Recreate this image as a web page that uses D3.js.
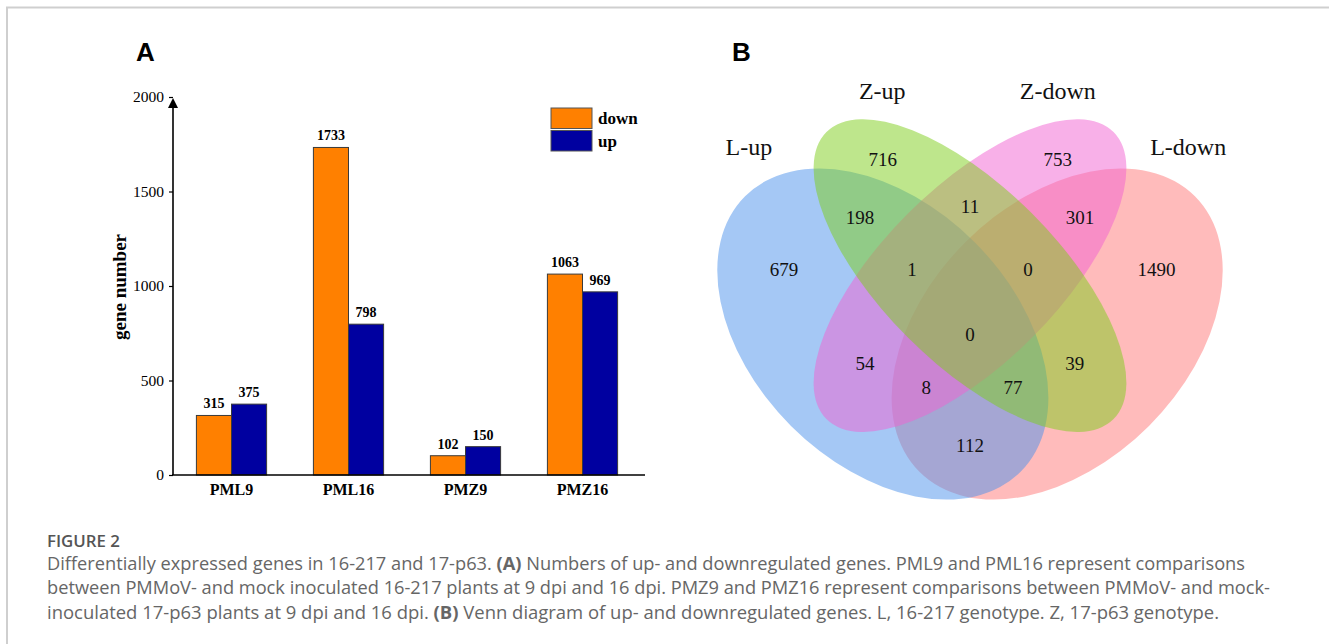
<!DOCTYPE html>
<html>
<head>
<meta charset="utf-8">
<script src="https://cdn.jsdelivr.net/npm/d3@7/dist/d3.min.js"></script>
<style>
  body { margin: 0; background: #fff; }
  svg { display: block; }
</style>
</head>
<body>
<svg width="1329" height="644"></svg>
<script>
// ---- data: panel A ----
const groups = ["PML9", "PML16", "PMZ9", "PMZ16"];
const series = ["down", "up"];
const downValues = [315, 1733, 102, 1063];
const upValues = [375, 798, 150, 969];
const yTicks = [0, 500, 1000, 1500, 2000];
const seriesColors = ["#FF8000", "#0000A0"];

// ---- data: panel B (venn) ----
const setNames = ["L-up", "Z-up", "Z-down", "L-down"];
const setColors = ["#4B91EB", "#7DCD19", "#F161D1", "#FF7777"];
const regionCounts = [716, 753, 11, 198, 301, 679, 1, 0, 1490, 0, 54, 39, 8, 77, 112];

// venn layout in unit square (like VennDiagram's quad layout)
const ellipses = [
  { cx: 0.351, cy: 0.47, a: 0.333, b: 0.222, rot: 45 },   // L-up
  { cx: 0.50, cy: 0.57, a: 0.347, b: 0.150, rot: 45 },    // Z-up
  { cx: 0.50, cy: 0.57, a: 0.347, b: 0.150, rot: -45 },   // Z-down
  { cx: 0.649, cy: 0.47, a: 0.333, b: 0.222, rot: -45 }   // L-down
];
const drawOrder = [3, 0, 2, 1];
const setLabelPos = [[0.122, 0.79], [0.35, 0.887], [0.65, 0.887], [0.873, 0.79]];
const regionPos = [
  [0.351, 0.769], [0.65, 0.769], [0.5, 0.689], [0.312, 0.67], [0.688, 0.67],
  [0.182, 0.581], [0.401, 0.581], [0.599, 0.581], [0.819, 0.581], [0.5, 0.47],
  [0.3205, 0.4205], [0.679, 0.4205], [0.425, 0.379], [0.5735, 0.379], [0.5, 0.28]
];

const captionTitle = "FIGURE 2";
const captionLines = [
  [["Differentially expressed genes in 16-217 and 17-p63. ", false], ["(A)", true], [" Numbers of up- and downregulated genes. PML9 and PML16 represent comparisons", false]],
  [["between PMMoV- and mock inoculated 16-217 plants at 9 dpi and 16 dpi. PMZ9 and PMZ16 represent comparisons between PMMoV- and mock-", false]],
  [["inoculated 17-p63 plants at 9 dpi and 16 dpi. ", false], ["(B)", true], [" Venn diagram of up- and downregulated genes. L, 16-217 genotype. Z, 17-p63 genotype.", false]]
];
const captionWidths = [1198, 1223, 1172];

const svg = d3.select("svg");
const serif = "'Liberation Serif', 'Times New Roman', serif";
const sans = "'Liberation Sans', Arial, sans-serif";

// frame
svg.append("path")
  .attr("d", "M7,644 V7.5 H1329")
  .attr("fill", "none")
  .attr("stroke", "#cfcfcf")
  .attr("stroke-width", 2);

// panel letters
svg.append("text").attr("x", 136).attr("y", 61).text("A")
  .style("font-family", sans).style("font-weight", "bold").style("font-size", "26px");
svg.append("text").attr("x", 732).attr("y", 61).text("B")
  .style("font-family", sans).style("font-weight", "bold").style("font-size", "26px");

// ---- bar chart ----
const x0 = d3.scaleBand().domain(groups).range([173, 641]).paddingInner(0.4).paddingOuter(0.2);
const x1 = d3.scaleBand().domain(series).range([0, x0.bandwidth()]);
const y = d3.scaleLinear().domain([0, 2000]).range([475, 97]);

const rows = groups.map((g, i) => ({ group: g, values: [downValues[i], upValues[i]] }));

const gBars = svg.append("g");
const grp = gBars.selectAll("g").data(rows).enter().append("g")
  .attr("transform", d => `translate(${x0(d.group)},0)`);

grp.selectAll("rect")
  .data(d => d.values.map((v, k) => ({ key: series[k], value: v, k })))
  .enter().append("rect")
  .attr("x", d => x1(d.key))
  .attr("y", d => y(d.value))
  .attr("width", x1.bandwidth())
  .attr("height", d => y(0) - y(d.value))
  .attr("fill", d => seriesColors[d.k])
  .attr("stroke", "#3a3a3a")
  .attr("stroke-width", 1);

grp.selectAll("text")
  .data(d => d.values.map((v, k) => ({ key: series[k], value: v })))
  .enter().append("text")
  .attr("x", d => x1(d.key) + x1.bandwidth() / 2)
  .attr("y", d => y(d.value) - 7)
  .attr("text-anchor", "middle")
  .text(d => d.value)
  .style("font-family", serif).style("font-weight", "bold").style("font-size", "14px");

// y axis
const yAxis = d3.axisLeft(y).tickValues(yTicks).tickFormat(d3.format("d")).tickSize(4).tickPadding(5);
const gy = svg.append("g").attr("transform", "translate(173,0)").call(yAxis);
gy.select(".domain").remove();
gy.selectAll("line").attr("stroke", "#000").attr("stroke-width", 1.2);
gy.selectAll("text").style("font-family", serif).style("font-size", "15.5px").attr("fill", "#000");
svg.append("line").attr("x1", 173).attr("x2", 173).attr("y1", y(0)).attr("y2", 104)
  .attr("stroke", "#000").attr("stroke-width", 1.6);
svg.append("path").attr("d", `M173,${y(2000) + 1} l-5,10 h10 z`).attr("fill", "#000");

// x axis
svg.append("line").attr("x1", 172).attr("x2", 645).attr("y1", y(0)).attr("y2", y(0))
  .attr("stroke", "#000").attr("stroke-width", 1.6);
svg.append("g").selectAll("text").data(groups).enter().append("text")
  .attr("x", d => x0(d) + x0.bandwidth() / 2)
  .attr("y", 495)
  .attr("text-anchor", "middle")
  .text(d => d)
  .style("font-family", serif).style("font-weight", "bold").style("font-size", "16px");

// y label
svg.append("text")
  .attr("transform", "translate(126,287) rotate(-90)")
  .attr("text-anchor", "middle")
  .text("gene number")
  .style("font-family", serif).style("font-weight", "bold").style("font-size", "19px");

// legend
const legend = svg.append("g").selectAll("g").data(series).enter().append("g")
  .attr("transform", (d, i) => `translate(551,${108 + i * 22.5})`);
legend.append("rect").attr("width", 41).attr("height", 20.5)
  .attr("fill", (d, i) => seriesColors[i]).attr("stroke", "#555").attr("stroke-width", 1);
legend.append("text").attr("x", 47).attr("y", 16).text(d => d)
  .style("font-family", serif).style("font-weight", "bold").style("font-size", "17px");

// ---- venn ----
const vx = d3.scaleLinear().domain([0, 1]).range([677.5, 1262.5]);
const vy = d3.scaleLinear().domain([0, 1]).range([609, 24]);
const unit = vx(1) - vx(0);

const gVenn = svg.append("g");
gVenn.selectAll("ellipse").data(drawOrder).enter().append("ellipse")
  .attr("cx", 0).attr("cy", 0)
  .attr("rx", i => ellipses[i].a * unit)
  .attr("ry", i => ellipses[i].b * unit)
  .attr("transform", i => `translate(${vx(ellipses[i].cx)},${vy(ellipses[i].cy)}) rotate(${ellipses[i].rot})`)
  .attr("fill", i => setColors[i])
  .attr("fill-opacity", 0.5);

gVenn.selectAll("text.set").data(setNames).enter().append("text")
  .attr("class", "set")
  .attr("x", (d, i) => vx(setLabelPos[i][0]))
  .attr("y", (d, i) => vy(setLabelPos[i][1]))
  .attr("dy", "0.35em")
  .attr("text-anchor", "middle")
  .text(d => d)
  .style("font-family", serif).style("font-size", "24px").attr("fill", "#111");

gVenn.selectAll("text.cnt").data(regionCounts).enter().append("text")
  .attr("class", "cnt")
  .attr("x", (d, i) => vx(regionPos[i][0]))
  .attr("y", (d, i) => vy(regionPos[i][1]))
  .attr("dy", "0.35em")
  .attr("text-anchor", "middle")
  .text(d => d)
  .style("font-family", serif).style("font-size", "19px").attr("fill", "#111");

// ---- caption ----
const capFont = "'Open Sans', 'Noto Sans', sans-serif";
svg.append("text").attr("x", 47).attr("y", 547).text(captionTitle)
  .attr("textLength", 73).attr("lengthAdjust", "spacingAndGlyphs")
  .style("font-family", capFont).style("font-size", "17px").style("font-weight", 600).attr("fill", "#555");

captionLines.forEach((parts, i) => {
  const t = svg.append("text").attr("x", 47).attr("y", 570 + i * 24.3)
    .attr("textLength", captionWidths[i]).attr("lengthAdjust", "spacingAndGlyphs")
    .style("font-family", capFont).style("font-size", "17.5px").attr("fill", "#666");
  parts.forEach(p => {
    t.append("tspan").text(p[0]).style("font-weight", p[1] ? "bold" : "normal");
  });
});
</script>
</body>
</html>
